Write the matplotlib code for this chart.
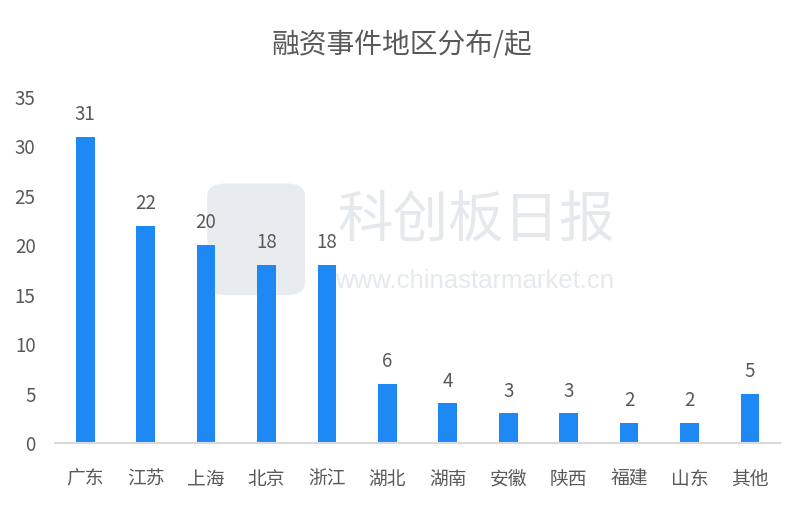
import matplotlib
matplotlib.use("Agg")
import matplotlib.pyplot as plt
from matplotlib.patches import FancyBboxPatch

plt.rcParams["font.family"] = ["Noto Sans CJK SC", "DejaVu Sans"]

regions = ["广东", "江苏", "上海", "北京", "浙江", "湖北", "湖南", "安徽", "陕西", "福建", "山东", "其他"]
counts = [31, 22, 20, 18, 18, 6, 4, 3, 3, 2, 2, 5]
y_ticks = [0, 5, 10, 15, 20, 25, 30, 35]

BAR = "#1E88F5"
TEXT = "#595959"

fig = plt.figure(figsize=(8.03, 5.08), dpi=100)
ax = fig.add_axes([0.0685, 0.128, 0.903, 0.681])

# watermark (behind the bars)
ax.add_patch(FancyBboxPatch((0.258, 0.419), 0.122, 0.22, boxstyle="round,pad=0,rounding_size=0.025",
                            transform=fig.transFigure, facecolor="#E9ECEF", edgecolor="none",
                            zorder=0, clip_on=False))
fig.text(0.5935, 0.565, "科创板日报", fontsize=40, color="#E6E9EC", ha="center", va="center", zorder=0)
fig.text(0.5915, 0.447, "www.chinastarmarket.cn", fontsize=18.5, color="#E6E9EC", ha="center",
         va="center", family=["Liberation Sans"], zorder=0)
ax.set_facecolor("none")

x = range(len(regions))
ax.bar(x, counts, width=0.31, color=BAR, zorder=2)
for i, v in zip(x, counts):
    ax.annotate(str(v), (i, v), xytext=(0, 8.5), textcoords="offset points",
                ha="center", va="bottom", fontsize=13.5, color=TEXT, annotation_clip=False, zorder=3)

ax.set_xlim(-0.5, len(regions) - 0.5)
ax.set_ylim(0, 35)
ax.set_xticks(list(x), labels=regions)
ax.set_yticks(y_ticks)
ax.tick_params(axis="x", length=0, pad=18.5, labelsize=13.5, labelcolor=TEXT)
ax.tick_params(axis="y", length=0, pad=14, labelsize=13.5, labelcolor=TEXT)
for s in ["top", "right", "left"]:
    ax.spines[s].set_visible(False)
ax.spines["bottom"].set_color("#D9D9D9")
ax.spines["bottom"].set_linewidth(1.5)

fig.text(0.5, 0.911, "融资事件地区分布/起", ha="center", va="center", fontsize=20, color=TEXT)

fig.savefig("out.png", dpi=100)
